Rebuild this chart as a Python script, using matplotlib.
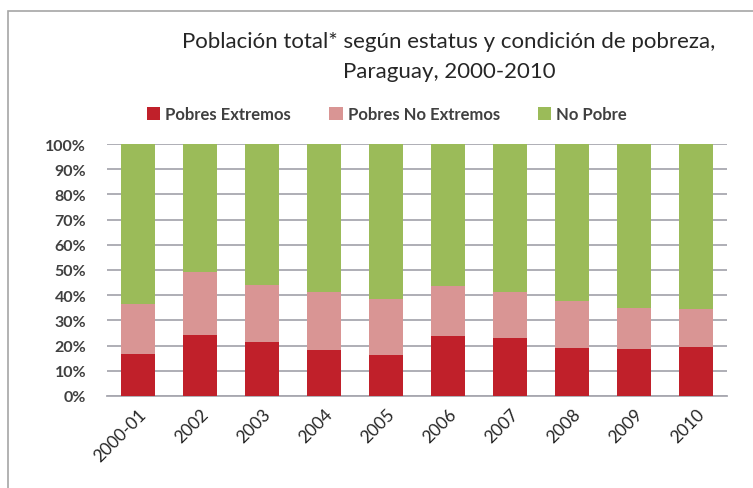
import matplotlib
matplotlib.use("Agg")
import matplotlib.pyplot as plt
from matplotlib.patches import Rectangle
import numpy as np

categories = ["2000-01", "2002", "2003", "2004", "2005", "2006", "2007", "2008", "2009", "2010"]
pobres_extremos = [16.5, 24.4, 21.3, 18.2, 16.4, 23.8, 23.0, 19.0, 18.7, 19.4]
pobres_total = [36.7, 49.4, 44.0, 41.2, 38.4, 43.6, 41.1, 37.7, 35.0, 34.5]
pobres_no_extremos = [t - e for t, e in zip(pobres_total, pobres_extremos)]
no_pobre = [100 - t for t in pobres_total]
yticks = list(range(0, 101, 10))

c_red = "#C0202A"
c_pink = "#D99594"
c_green = "#9BBB59"

plt.rcParams['font.family'] = ['Lato', 'DejaVu Sans']

fig = plt.figure(figsize=(7.53, 4.89), dpi=100)
# outer frame
fig.patches.append(Rectangle((8/753, -0.1), 1.2, (489-12)/489 + 0.1, transform=fig.transFigure,
                             fill=False, edgecolor="#a6a6a6", linewidth=1.2))

ax = fig.add_axes([107/753, 1-397/489, 620/753, 252/489])
x = np.arange(len(categories))
w = 0.56
ax.bar(x, pobres_extremos, w, color=c_red, label="Pobres Extremos", zorder=3)
ax.bar(x, pobres_no_extremos, w, bottom=pobres_extremos, color=c_pink, label="Pobres No Extremos", zorder=3)
ax.bar(x, no_pobre, w, bottom=pobres_total, color=c_green, label="No Pobre", zorder=3)

ax.set_xlim(-0.5, len(categories) - 0.5)
ax.set_ylim(0, 100)
ax.set_yticks(yticks)
ax.set_yticklabels([f"{v}%" for v in yticks], fontsize=11.5, fontweight="bold", color="#404040")
ax.yaxis.grid(True, color="#a8a8b0", linewidth=1.3, zorder=0)
ax.set_axisbelow(True)
ax.tick_params(axis="y", length=0, pad=15)
ax.tick_params(axis="x", length=0, pad=7)
ax.set_xticks(x)
ax.set_xticklabels(categories, rotation=45, ha="right", rotation_mode="anchor",
                   fontsize=12.5, color="#262626")
for s in ["top", "right", "left"]:
    ax.spines[s].set_visible(False)
ax.spines["bottom"].set_color("#a8a8b0")
ax.spines["bottom"].set_linewidth(1.3)

fig.text(449/753, 1-42/489, "Población total* según estatus y condición de pobreza,",
         ha="center", va="center", fontsize=16, color="#262626")
fig.text(449/753, 1-72/489, "Paraguay, 2000-2010",
         ha="center", va="center", fontsize=16, color="#262626")

leg = fig.legend(loc="center", bbox_to_anchor=(387/753, 1-115/489), ncol=3, frameon=False,
                 prop={"size": 12, "weight": "bold"}, handlelength=0.8, handleheight=0.8,
                 handletextpad=0.3, columnspacing=2.3)
for t in leg.get_texts():
    t.set_color("#404040")

fig.savefig("out.png", dpi=100)
